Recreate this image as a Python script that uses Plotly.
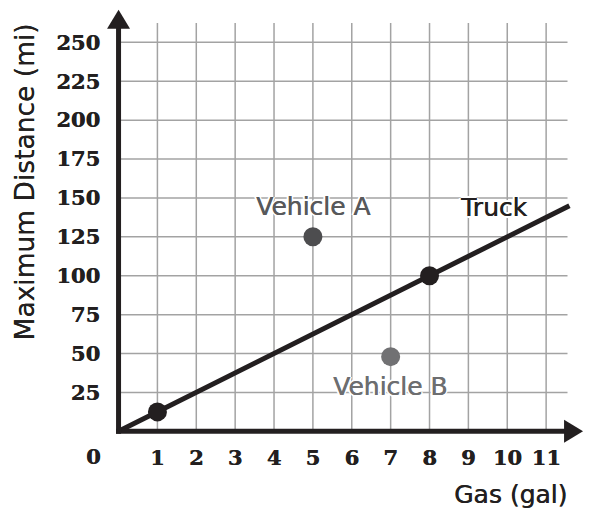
import plotly.graph_objects as go

# ---- data ----
x_ticks = [1, 2, 3, 4, 5, 6, 7, 8, 9, 10, 11]
y_ticks = [25, 50, 75, 100, 125, 150, 175, 200, 225, 250]
truck_line_x = [0, 11.6]
truck_line_y = [0, 145]
truck_pts_x = [1, 8]
truck_pts_y = [12.5, 100]
vehicle_a = (5, 125)
vehicle_b = (7, 48)

# ---- layout geometry ----
W, H = 590, 512
PXX, PXY = 38.9, 1.555          # pixels per data unit
ORIGIN_PX = (118.5, 431.2)      # pixel position of (0, 0)
X0, XMAX = -0.4, 12.0
Y0, YMAX = -7.5, 274
ML = ORIGIN_PX[0] + X0 * PXX
MR = W - (ORIGIN_PX[0] + XMAX * PXX)
MT = ORIGIN_PX[1] - YMAX * PXY
MB = H - (ORIGIN_PX[1] - Y0 * PXY)
GRID_X_END = 11.55
GRID_Y_END = 262.5
INK = "#231f20"
GRID = "#a3a3a3"

fig = go.Figure()

fig.add_trace(go.Scatter(x=truck_line_x, y=truck_line_y, mode="lines",
                         line=dict(color=INK, width=5), hoverinfo="skip"))
fig.add_trace(go.Scatter(x=truck_pts_x, y=truck_pts_y, mode="markers",
                         marker=dict(color=INK, size=19), hoverinfo="skip"))
fig.add_trace(go.Scatter(x=[vehicle_a[0]], y=[vehicle_a[1]], mode="markers",
                         marker=dict(color="#4d4d4f", size=19), hoverinfo="skip"))
fig.add_trace(go.Scatter(x=[vehicle_b[0]], y=[vehicle_b[1]], mode="markers",
                         marker=dict(color="#717173", size=19), hoverinfo="skip"))

shapes = []
for xv in x_ticks:
    shapes.append(dict(type="line", x0=xv, x1=xv, y0=0, y1=GRID_Y_END, layer="below",
                       line=dict(color=GRID, width=1.5)))
for yv in y_ticks:
    shapes.append(dict(type="line", x0=0, x1=GRID_X_END, y0=yv, y1=yv, layer="below",
                       line=dict(color=GRID, width=1.5)))

# axes with arrowheads
ah_len, ah_half = 19, 11.5
lw_x = 2.5 / PXX
lw_y = 2.5 / PXY
shapes.append(dict(type="line", x0=-lw_x, x1=XMAX - ah_len / PXX + 0.05, y0=0, y1=0,
                   line=dict(color=INK, width=5), layer="above"))
shapes.append(dict(type="line", x0=0, x1=0, y0=-lw_y, y1=YMAX - ah_len / PXY + 2,
                   line=dict(color=INK, width=5), layer="above"))
tipx = XMAX - 0.05
shapes.append(dict(type="path", layer="above", fillcolor=INK, line=dict(width=0),
                   path=f"M {tipx - ah_len/PXX},{ah_half/PXY} L {tipx},0 L {tipx - ah_len/PXX},{-ah_half/PXY} Z"))
tipy = YMAX - 3
shapes.append(dict(type="path", layer="above", fillcolor=INK, line=dict(width=0),
                   path=f"M {-ah_half/PXX},{tipy - ah_len/PXY} L 0,{tipy} L {ah_half/PXX},{tipy - ah_len/PXY} Z"))


def heavy(color, halo=True):
    s = f"0.5px 0 0 {color}"
    if halo:
        s += ", 2px 0 0 white, -2px 0 0 white, 0 2px 0 white, 0 -2px 0 white"
    return s


sans = "DejaVu Sans"
annotations = [
    dict(x=vehicle_a[0], y=vehicle_a[1], text="Vehicle A", showarrow=False, yshift=30,
         font=dict(family=sans, size=25, color="#58595b", shadow=heavy("#58595b"))),
    dict(x=vehicle_b[0], y=vehicle_b[1], text="Vehicle B", showarrow=False, yshift=-30,
         font=dict(family=sans, size=25, color="#6d6e70", shadow=heavy("#6d6e70"))),
    dict(x=9.65, y=144, text="Truck", showarrow=False,
         font=dict(family=sans, size=25, color=INK, shadow=heavy(INK))),
    dict(x=0, y=0, text="0", showarrow=False, xanchor="center", yanchor="middle",
         xshift=-25, yshift=-25,
         font=dict(family="DejaVu Serif", size=21, color=INK, weight="bold",
                   shadow=heavy(INK, False))),
    dict(x=10.08, y=0, text="Gas (gal)", showarrow=False, yshift=-63,
         font=dict(family=sans, size=25, color=INK, shadow=heavy(INK, False))),
    dict(x=X0, y=160, text="Maximum Distance (mi)", showarrow=False,
         textangle=-90, xshift=-(ORIGIN_PX[0] + X0 * PXX - 24),
         font=dict(family=sans, size=26.5, color=INK, shadow="0 0.5px 0 " + INK)),
]

tickfont = dict(family="DejaVu Serif", size=21, color=INK, weight="bold",
                shadow=heavy(INK, False))
fig.update_layout(
    width=W, height=H, margin=dict(l=ML, r=MR, t=MT, b=MB, pad=0, autoexpand=False),
    paper_bgcolor="white", plot_bgcolor="white", showlegend=False,
    shapes=shapes, annotations=annotations, hovermode=False,
    xaxis=dict(range=[X0, XMAX], tickvals=x_ticks, showgrid=False, zeroline=False,
               showline=False, ticks="", tickfont=tickfont, ticklabelstandoff=0,
               automargin=False, fixedrange=True),
    yaxis=dict(range=[Y0, YMAX], tickvals=y_ticks, showgrid=False, zeroline=False,
               showline=False, ticks="", tickfont=tickfont, ticklabelstandoff=2,
               automargin=False, fixedrange=True),
)
fig.write_html("out.html", config={"displayModeBar": False},
               post_script="document.body.style.margin='0px';document.body.style.overflow='hidden';")
